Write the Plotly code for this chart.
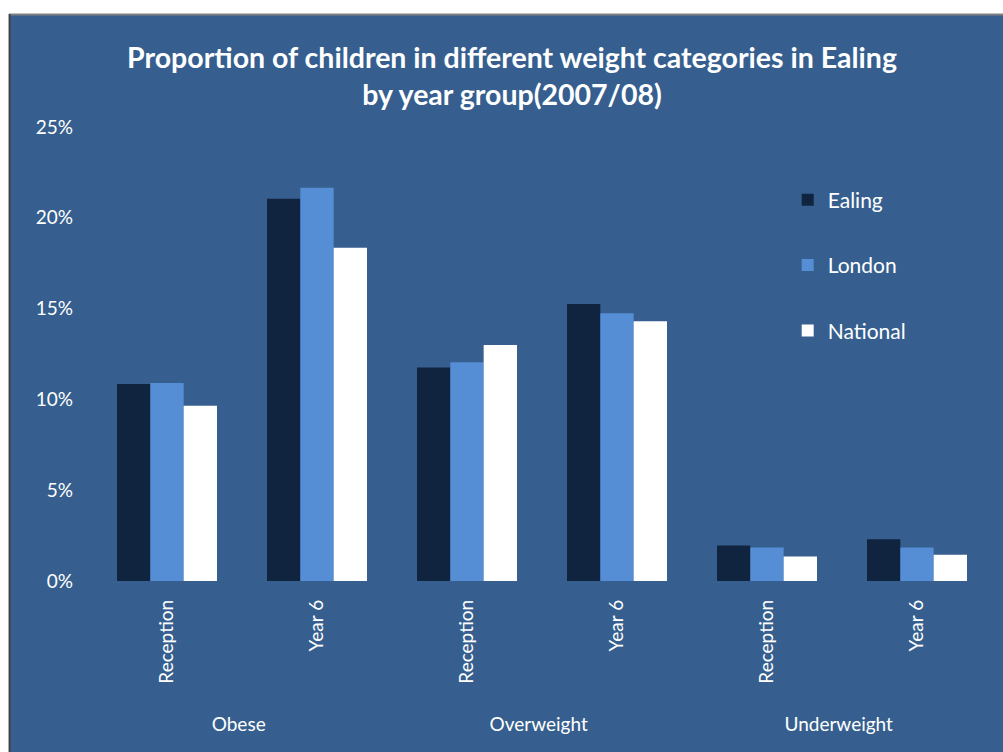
import plotly.graph_objects as go

groups = ["Obese", "Obese", "Overweight", "Overweight", "Underweight", "Underweight"]
years = ["Reception", "Year 6", "Reception", "Year 6", "Reception", "Year 6"]
ealing = [10.85, 21.05, 11.75, 15.25, 1.95, 2.3]
london = [10.9, 21.65, 12.05, 14.75, 1.85, 1.85]
national = [9.65, 18.35, 13.0, 14.3, 1.35, 1.45]
series = [("Ealing", ealing, "#10243F"), ("London", london, "#558ED5"), ("National", national, "#FFFFFF")]

BG = "#365F8F"
FONT = "Lato, 'Open Sans', sans-serif"

# leading line break pushes the group labels lower, as in the original
group_labels = ["<br>" + g for g in groups]

fig = go.Figure()
for i, (name, vals, col) in enumerate(series):
    fig.add_trace(go.Bar(
        x=[group_labels, years], y=vals, name=name, marker_color=col,
        marker_line_width=0, legendgroup=name,
    ))

fig.update_layout(
    width=1003, height=752,
    paper_bgcolor=BG, plot_bgcolor=BG,
    margin=dict(l=92, r=11, t=127, b=171),
    barmode="group", bargap=1/3, bargroupgap=0,
    font=dict(family=FONT, color="white", size=19),
    title=dict(
        text="<b>Proportion of children in different weight categories in Ealing<br>by year group(2007/08)</b>",
        x=0.5105, xref="container", xanchor="center",
        y=0.9096, yref="container", yanchor="middle",
        font=dict(size=28.5, color="white", family=FONT),
    ),
    legend=dict(
        x=0.773, y=0.884, xanchor="left", yanchor="top",
        font=dict(size=21, color="white"),
        bgcolor="rgba(0,0,0,0)", tracegroupgap=35, itemwidth=30,
    ),
    xaxis=dict(
        type="multicategory", tickangle=-90, showdividers=False,
        showgrid=False, showline=False, ticks="", zeroline=False,
        tickfont=dict(size=19, color="white"), ticklabelstandoff=14,
    ),
    yaxis=dict(
        range=[0, 25], dtick=5, ticksuffix="%", showgrid=False,
        zeroline=False, showline=False, ticks="",
        tickfont=dict(size=19, color="white"), ticklabelstandoff=18,
    ),
    shapes=[
        dict(type="rect", xref="paper", yref="paper", x0=-0.11, x1=1.02, y0=1.249, y1=1.29,
             fillcolor="white", line_width=0, layer="above"),
        dict(type="rect", xref="paper", yref="paper", x0=-0.11, x1=-0.0922, y0=-0.4, y1=1.29,
             fillcolor="white", line_width=0, layer="above"),
        dict(type="line", xref="paper", yref="paper", x0=-0.0922, x1=1.02, y0=1.2478, y1=1.2478,
             line=dict(color="#808080", width=2), layer="above"),
        dict(type="line", xref="paper", yref="paper", x0=-0.0916, x1=-0.0916, y0=-0.4, y1=1.2489,
             line=dict(color="#404040", width=2), layer="above"),
    ],
)

fig.write_html("out.html")
